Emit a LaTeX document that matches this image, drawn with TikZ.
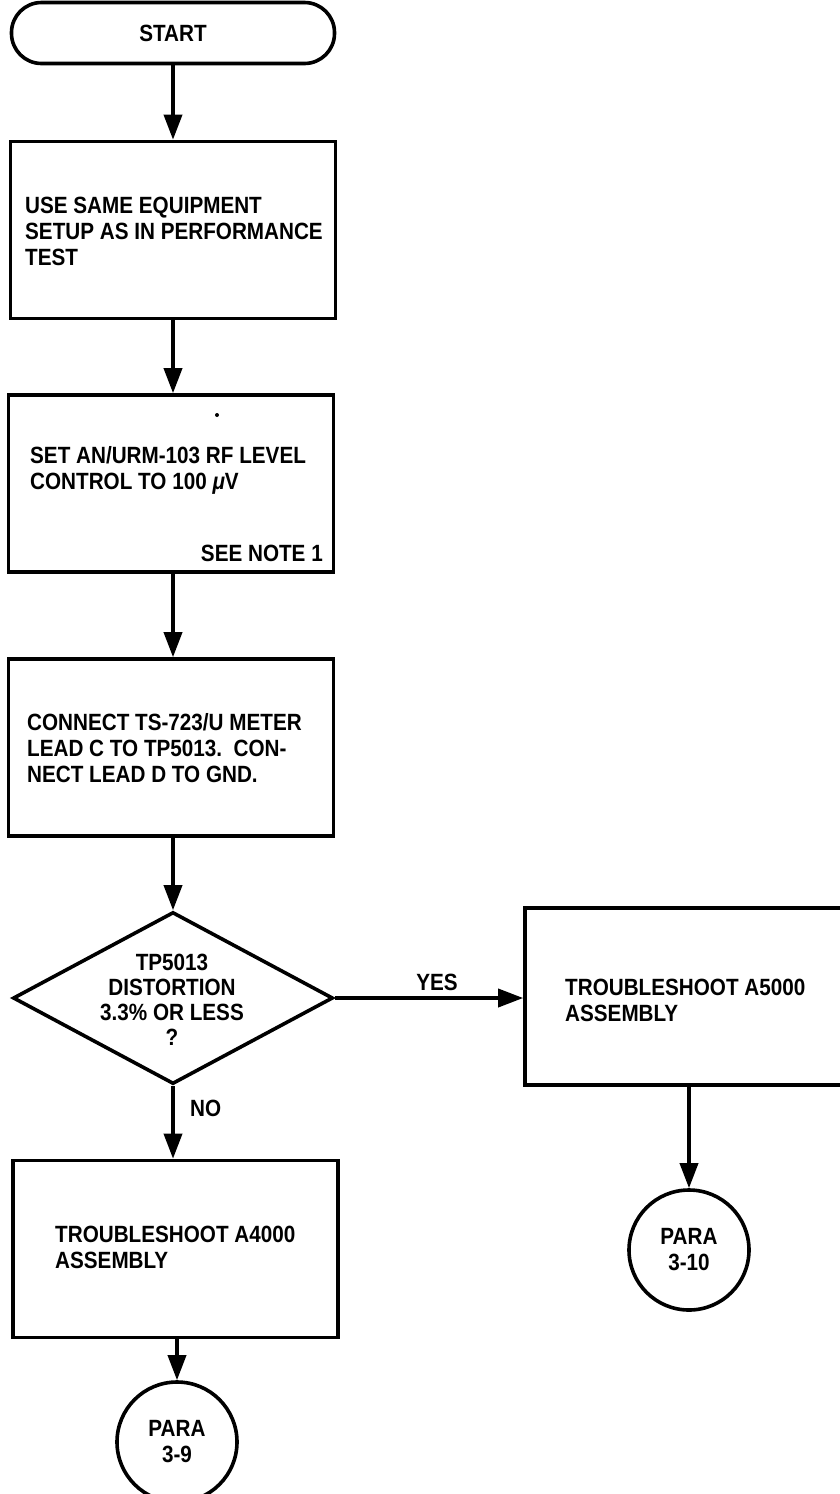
\documentclass[tikz,border=0pt]{standalone}
\usepackage{fontspec}
\setmainfont{Liberation Sans}[FakeStretch=0.88]
\usetikzlibrary{arrows.meta,shapes.geometric}
\begin{document}
\begin{tikzpicture}[x=1pt,y=-1pt,
  lw/.style={line width=3.6pt},
  box/.style={lw, draw, minimum width=325pt, minimum height=177pt, inner sep=0pt},
  term/.style={lw, draw, rounded corners=30pt, minimum width=323pt, minimum height=61pt, inner sep=0pt},
  dec/.style={lw, draw, diamond, minimum width=320pt, minimum height=172pt, inner sep=0pt},
  conn/.style={lw, draw, circle, minimum size=120pt, inner sep=0pt, align=center},
  txt/.style={font=\bfseries\fontsize{23.5}{26}\selectfont, inner sep=0pt, align=left},
  arr/.style={lw, -{Triangle[length=25pt,width=18pt]}}
]
\useasboundingbox (0,0) rectangle (840,1494);
\clip (0,0) rectangle (840,1494);
% nodes
\node[term, txt, align=center] (start) at (173,33) {START};
\node[box] (b1) at (173,230) {};
\node[box] (b2) at (171,483.5) {};
\node[box] (b3) at (171,747.5) {};
\node[dec] (dia) at (173,998) {};
\node[box] (byes) at (687.5,996.5) {};
\node[box] (bno) at (175.5,1249) {};
\node[conn, txt, align=center] (p9) at (177,1442) {PARA\\3-9};
\node[conn, txt, align=center] (p10) at (689,1250) {PARA\\3-10};
% texts
\node[txt, anchor=west] (t1) at (25,231) {USE SAME EQUIPMENT\\SETUP AS IN PERFORMANCE\\TEST};
\node[txt, anchor=west] (t2) at (30,470) {SET AN/URM-103 RF LEVEL\\CONTROL TO 100 {\itshape μ}V};
\node[txt, anchor=east] (note) at (323,553) {SEE NOTE 1};
\fill (217,415) circle (2pt);
\node[txt, anchor=west] (t3) at (27,748) {CONNECT TS-723/U METER\\LEAD C TO TP5013.\ \ CON-\\NECT LEAD D TO GND.};
\node[txt, align=center, font=\bfseries\fontsize{23.5}{25}\selectfont] (td) at (172,1000) {TP5013\\DISTORTION\\3.3\% OR LESS\\?};
\node[txt, anchor=west] (tyes) at (565,1000) {TROUBLESHOOT A5000\\ASSEMBLY};
\node[txt, anchor=west] (tno) at (55,1247) {TROUBLESHOOT A4000\\ASSEMBLY};
\node[txt] (lyes) at (437,982) {YES};
\node[txt, anchor=west] (lno) at (190,1108) {NO};
% connectors
\draw[arr] (start.south -| b1.north) -- (b1.north);
\draw[arr] (b1.south) -- (b1.south |- b2.north);
\draw[arr] (b1.south |- b2.south) -- (b1.south |- b3.north);
\draw[arr] (b1.south |- b3.south) -- (dia.north);
\draw[arr] (dia.east) -- (byes.west |- dia.east);
\draw[arr] (dia.south) -- (dia.south |- bno.north);
\draw[arr] (p9.north |- bno.south) -- (p9.north);
\draw[arr] (p10.north |- byes.south) -- (p10.north);
\end{tikzpicture}
\end{document}
